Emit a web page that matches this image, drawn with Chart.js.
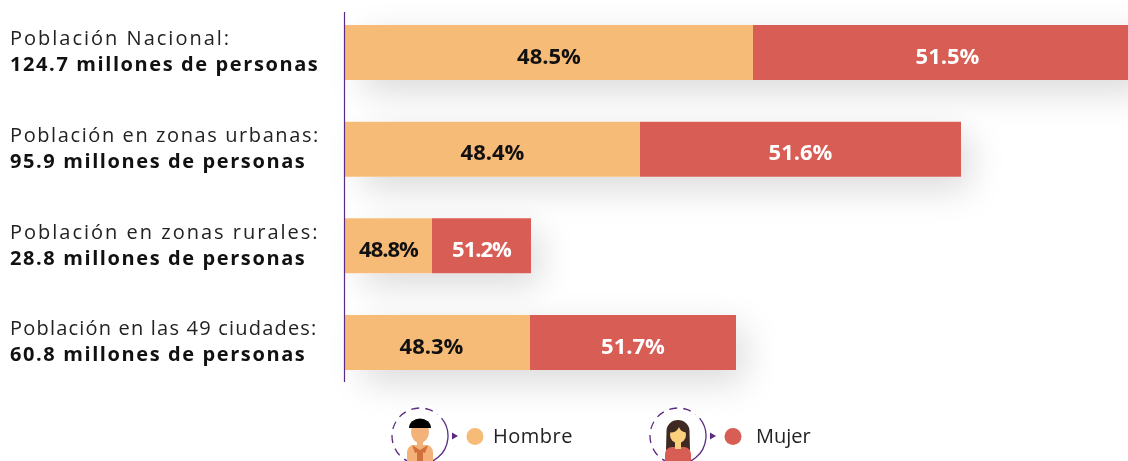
<!DOCTYPE html>
<html><head><meta charset="utf-8">
<style>html,body{margin:0;padding:0;background:#fff;overflow:hidden}#w{position:relative;width:1128px;height:461px}</style>
<script src="https://cdn.jsdelivr.net/npm/chart.js@4"></script></head>
<body><div id="w"><canvas id="c" width="1128" height="461"></canvas></div>
<script>
const categories = ["Población Nacional:", "Población en zonas urbanas:", "Población en zonas rurales:", "Población en las 49 ciudades:"];
const totals = ["124.7 millones de personas", "95.9 millones de personas", "28.8 millones de personas", "60.8 millones de personas"];
const hombreLabels = ["48.5%", "48.4%", "48.8%", "48.3%"];
const mujerLabels = ["51.5%", "51.6%", "51.2%", "51.7%"];
// drawn segment lengths (the first bar runs past the right edge)
const hombre = [408, 295, 87, 185];
const mujer = [389, 321, 99, 206];
const axisMax = 783;
const HOMBRE = "#F7BB78", MUJER = "#D85D55", PURPLE = "#5B2A82", FONT = "'Open Sans', sans-serif";
const catSpacing = ["2px", "1.6px", "2px", "1.2px"];
const hombreShift = [0, 0, 0, -6];

function text(ctx, s, x, y, font, color, align, spacing) {
  ctx.font = font; ctx.fillStyle = color; ctx.textAlign = align || "left"; ctx.textBaseline = "middle";
  ctx.letterSpacing = spacing || "0px"; ctx.fillText(s, x, y); ctx.letterSpacing = "0px";
}
function person(ctx, cx, cy, woman) {
  ctx.save();
  ctx.beginPath(); ctx.rect(0, 0, 1128, 461); ctx.clip();
  ctx.lineWidth = 1.3; ctx.strokeStyle = PURPLE;
  ctx.beginPath(); ctx.setLineDash([8, 6]); ctx.arc(cx, cy, 28, Math.PI * 0.6, Math.PI * 1.72); ctx.stroke();
  ctx.setLineDash([]); ctx.beginPath(); ctx.arc(cx, cy, 28, -Math.PI * 0.22, Math.PI * 0.4); ctx.stroke();
  ctx.fillStyle = PURPLE; ctx.beginPath(); ctx.moveTo(cx + 32, cy - 3.5); ctx.lineTo(cx + 38, cy); ctx.lineTo(cx + 32, cy + 3.5); ctx.fill();
  if (woman) {
    ctx.fillStyle = "#3E2A22"; ctx.beginPath(); ctx.ellipse(cx, cy - 5, 11.5, 11, 0, Math.PI, 0); ctx.lineTo(cx + 12, cy + 14); ctx.lineTo(cx - 12, cy + 14); ctx.fill();
    ctx.fillStyle = "#D85D55"; ctx.beginPath(); ctx.roundRect(cx - 13, cy + 11, 26, 24, 7); ctx.fill();
    ctx.fillStyle = "#FDD07E"; ctx.fillRect(cx - 3, cy + 3, 6, 10); ctx.beginPath(); ctx.ellipse(cx, cy - 1, 8, 8, 0, 0, Math.PI * 2); ctx.fill();
    ctx.fillStyle = "#3E2A22"; ctx.beginPath(); ctx.moveTo(cx - 9, cy - 4); ctx.quadraticCurveTo(cx - 2, cy - 2, cx + 1, cy - 9); ctx.quadraticCurveTo(cx + 3, cy - 3, cx + 9, cy - 4); ctx.lineTo(cx + 9, cy - 10); ctx.lineTo(cx - 9, cy - 10); ctx.fill();
  } else {
    ctx.fillStyle = "#F4B27A"; ctx.beginPath(); ctx.roundRect(cx - 13, cy + 9, 26, 26, 7); ctx.fill();
    ctx.fillStyle = "#D0703A"; ctx.beginPath(); ctx.moveTo(cx - 8, cy + 9); ctx.lineTo(cx - 5, cy + 17); ctx.lineTo(cx, cy + 15); ctx.lineTo(cx + 5, cy + 17); ctx.lineTo(cx + 8, cy + 9); ctx.lineTo(cx, cy + 14); ctx.fill();
    ctx.fillRect(cx - 3, cy + 15, 6, 10);
    ctx.fillStyle = "#F2B27A"; ctx.fillRect(cx - 3, cy + 3, 6, 8); ctx.beginPath(); ctx.ellipse(cx, cy - 4, 9, 11, 0, 0, Math.PI * 2); ctx.fill();
    ctx.fillStyle = "#000"; ctx.beginPath(); ctx.ellipse(cx, cy - 8, 11, 9.5, 0, Math.PI, 0); ctx.quadraticCurveTo(cx, cy - 8, cx - 11, cy - 8); ctx.fill();
  }
  ctx.restore();
}
const deco = {
  id: "deco",
  beforeDatasetsDraw(chart) {
    const ctx = chart.ctx, m0 = chart.getDatasetMeta(0).data, m1 = chart.getDatasetMeta(1).data;
    ctx.save();
    ctx.shadowColor = "rgba(0,0,0,0.15)"; ctx.shadowBlur = 36; ctx.shadowOffsetX = 8; ctx.shadowOffsetY = 12; ctx.fillStyle = "#fff";
    m0.forEach((b, i) => { const e = m1[i]; ctx.fillRect(b.base + 10, b.y - 27.5, e.x - b.base - 10, 55); });
    ctx.restore();
  },
  afterDatasetsDraw(chart) {
    const ctx = chart.ctx, y = chart.scales.y, m0 = chart.getDatasetMeta(0).data, m1 = chart.getDatasetMeta(1).data;
    ctx.save();
    ctx.strokeStyle = PURPLE; ctx.lineWidth = 1.2; ctx.beginPath(); ctx.moveTo(344.5, 12); ctx.lineTo(344.5, 382); ctx.stroke();
    categories.forEach((c, i) => {
      const p = y.getPixelForValue(i);
      text(ctx, c, 10, p - 13, "400 20px " + FONT, "#222", "left", catSpacing[i]);
      text(ctx, totals[i], 10, p + 13, "700 20px " + FONT, "#111", "left", "1.6px");
      const a = m0[i], b = m1[i], sp = i === 2 ? "-1px" : "0px";
      text(ctx, hombreLabels[i], (a.base + a.x) / 2 + hombreShift[i], p + 5, "700 22px " + FONT, "#111", "center", sp);
      text(ctx, mujerLabels[i], (a.x + b.x) / 2, p + 5, "700 22px " + FONT, "#fff", "center", sp);
    });
    person(ctx, 420, 436, false); person(ctx, 678, 436, true);
    ctx.fillStyle = HOMBRE; ctx.beginPath(); ctx.arc(475, 436.5, 8.5, 0, 7); ctx.fill();
    ctx.fillStyle = MUJER; ctx.beginPath(); ctx.arc(733, 436.5, 8.5, 0, 7); ctx.fill();
    text(ctx, "Hombre", 493, 437, "400 20px " + FONT, "#222", "left", "0.5px");
    text(ctx, "Mujer", 756, 437, "400 20px " + FONT, "#222");
    ctx.restore();
  }
};
new Chart(document.getElementById("c"), {
  type: "bar",
  data: { labels: categories, datasets: [
    { label: "Hombre", data: hombre, backgroundColor: HOMBRE, barThickness: 55, borderWidth: 0, inflateAmount: 0 },
    { label: "Mujer", data: mujer, backgroundColor: MUJER, barThickness: 55, borderWidth: 0, inflateAmount: 0 }
  ] },
  options: {
    indexAxis: "y", responsive: false, animation: false,
    layout: { padding: { left: 345, top: 4.17, bottom: 70.16, right: 0 } },
    plugins: { legend: { display: false }, tooltip: { enabled: false } },
    scales: {
      x: { stacked: true, min: 0, max: axisMax, display: false },
      y: { stacked: true, display: false }
    }
  },
  plugins: [deco]
});
</script></body></html>
